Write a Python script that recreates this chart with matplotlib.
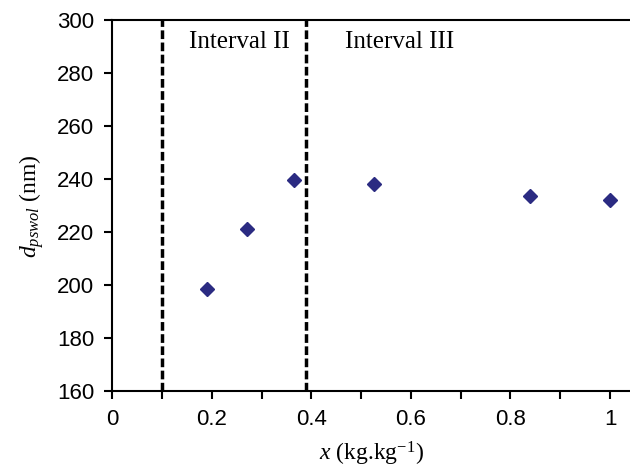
import matplotlib
matplotlib.use('Agg')
import matplotlib.pyplot as plt

# values
x_vals = [0.19, 0.27, 0.365, 0.525, 0.84, 1.0]
d_vals = [198.5, 221, 239.5, 238, 233.5, 232]
boundaries = [0.1, 0.39]
interval_labels = ['Interval II', 'Interval III']
label_x = [0.155, 0.468]

plt.rcParams['mathtext.fontset'] = 'custom'
plt.rcParams['mathtext.it'] = 'Liberation Serif:italic'
plt.rcParams['mathtext.rm'] = 'Liberation Serif'

fig = plt.figure(figsize=(6.3, 4.7), dpi=100)
ax = fig.add_axes([0.178, 0.168, 0.822, 0.789])

ax.plot(x_vals, d_vals, linestyle='none', marker='D', ms=7.5, color='#2b2b82')

for b in boundaries:
    ax.axvline(b, color='black', linestyle=(0, (2.5, 1)), linewidth=2.5)

for lx, lab in zip(label_x, interval_labels):
    ax.text(lx, 296, lab, fontsize=18, family='Liberation Serif', va='top', ha='left')

ax.set_xlim(0, 1.04)
ax.set_ylim(160, 300)
ax.set_xticks([0, 0.2, 0.4, 0.6, 0.8, 1.0])
ax.set_xticklabels(['0', '0.2', '0.4', '0.6', '0.8', '1'])
ax.set_xticks([0.1, 0.3, 0.5, 0.7, 0.9], minor=True)
ax.set_yticks(range(160, 301, 20))

ax.spines['right'].set_visible(False)
for s in ['left', 'bottom', 'top']:
    ax.spines[s].set_linewidth(1.5)

ax.tick_params(axis='both', which='both', direction='out', width=1.5)
ax.tick_params(axis='both', which='major', length=6, labelsize=16, pad=7)
ax.tick_params(axis='x', which='minor', length=6)
for t in ax.get_xticklabels() + ax.get_yticklabels():
    t.set_family('Liberation Sans')

ax.set_xlabel(r'$x$ (kg.kg$^{\mathregular{-1}}$)', fontsize=17, family='Liberation Serif', labelpad=7)
ax.set_ylabel(r'$d_{pswol}$ (nm)', fontsize=17, family='Liberation Serif', labelpad=8)

fig.savefig('out.png', dpi=100)
